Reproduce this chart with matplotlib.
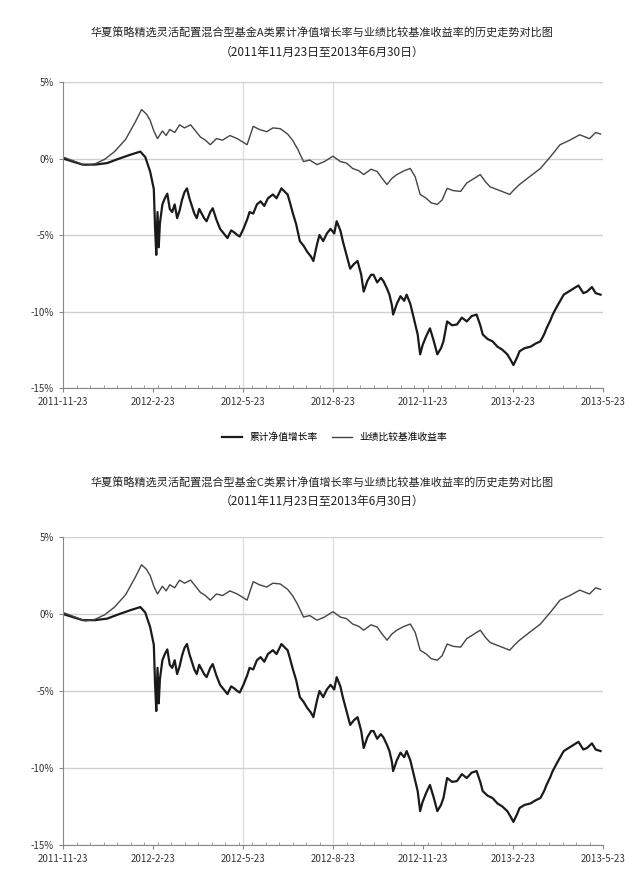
import numpy as np
import matplotlib
matplotlib.use("Agg")
import matplotlib.pyplot as plt

plt.rcParams['font.family'] = ['Noto Sans CJK SC', 'DejaVu Sans']
plt.rcParams['axes.unicode_minus'] = False

# 业绩比较基准收益率 (%)
bench_day = [0, 10, 18, 26, 34, 42, 51, 59, 64, 68,
             71, 74, 77, 81, 84, 87, 91, 95, 99, 104,
             108, 112, 116, 120, 125, 130, 136, 142, 146, 150,
             155, 160, 166, 171, 177, 183, 187, 191, 196, 201,
             207, 213, 220, 226, 231, 236, 241, 245, 251, 256,
             260, 264, 268, 272, 278, 283, 287, 291, 296, 300,
             305, 309, 313, 318, 324, 329, 335, 340, 344, 348,
             356, 364, 368, 372, 380, 389, 397, 405, 413, 421,
             429, 434, 438]
bench_val = [0.1, -0.2, -0.45, -0.35, -0.05, 0.45, 1.25, 2.4, 3.2, 2.9,
             2.5, 1.8, 1.3, 1.8, 1.5, 1.9, 1.7, 2.2, 2.0, 2.2,
             1.8, 1.4, 1.2, 0.9, 1.3, 1.2, 1.5, 1.3, 1.1, 0.9,
             2.1, 1.9, 1.75, 2.0, 1.95, 1.6, 1.2, 0.65, -0.2, -0.1,
             -0.4, -0.2, 0.15, -0.2, -0.3, -0.65, -0.8, -1.05, -0.7, -0.85,
             -1.3, -1.7, -1.3, -1.05, -0.8, -0.65, -1.2, -2.35, -2.6, -2.9,
             -3.0, -2.7, -1.95, -2.1, -2.15, -1.6, -1.3, -1.05, -1.5, -1.85,
             -2.1, -2.35, -2.0, -1.7, -1.2, -0.65, 0.1, 0.9, 1.2, 1.55,
             1.3, 1.7, 1.6]

# 累计净值增长率 (%)
fund_day = [0, 8, 16, 26, 36, 46, 55, 63, 67, 71,
            74, 75, 76, 77, 78, 79, 81, 83, 85, 87,
            89, 91, 93, 95, 97, 99, 101, 103, 105, 107,
            109, 111, 113, 115, 117, 120, 122, 125, 128, 131,
            134, 137, 139, 142, 144, 147, 150, 152, 155, 158,
            161, 164, 167, 171, 174, 178, 181, 183, 185, 187,
            190, 193, 196, 199, 202, 204, 207, 209, 212, 215,
            218, 221, 223, 226, 228, 231, 234, 237, 240, 243,
            245, 248, 251, 253, 256, 259, 261, 264, 266, 268,
            269, 272, 275, 278, 280, 283, 286, 289, 291, 293,
            296, 299, 302, 305, 308, 310, 313, 317, 321, 325,
            329, 333, 337, 340, 342, 346, 350, 354, 358, 362,
            365, 367, 370, 372, 376, 381, 385, 389, 392, 394,
            397, 399, 403, 408, 412, 416, 420, 424, 427, 431,
            434, 438]
fund_val = [0.0, -0.2, -0.4, -0.4, -0.3, 0.0, 0.25, 0.45, 0.1, -0.85,
            -2.0, -4.5, -6.3, -3.5, -5.8, -4.2, -3.0, -2.6, -2.3, -3.3,
            -3.5, -3.0, -3.9, -3.4, -2.7, -2.2, -1.95, -2.6, -3.1, -3.6,
            -3.9, -3.3, -3.6, -3.9, -4.1, -3.5, -3.25, -4.0, -4.6, -4.9,
            -5.2, -4.7, -4.8, -5.0, -5.1, -4.6, -4.0, -3.5, -3.6, -3.0,
            -2.8, -3.1, -2.6, -2.35, -2.6, -1.95, -2.2, -2.35, -2.9, -3.5,
            -4.3, -5.4, -5.7, -6.1, -6.4, -6.7, -5.6, -5.0, -5.4, -4.9,
            -4.6, -4.9, -4.1, -4.7, -5.4, -6.3, -7.2, -6.9, -6.7, -7.6,
            -8.7, -8.0, -7.6, -7.6, -8.1, -7.8, -8.0, -8.5, -8.9, -9.6,
            -10.2, -9.5, -9.0, -9.3, -8.9, -9.5, -10.5, -11.5, -12.8, -12.2,
            -11.6, -11.1, -11.9, -12.8, -12.4, -11.95, -10.65, -10.9, -10.85, -10.4,
            -10.65, -10.3, -10.2, -10.9, -11.5, -11.8, -11.95, -12.3, -12.5, -12.8,
            -13.2, -13.5, -13.0, -12.6, -12.4, -12.3, -12.1, -11.95, -11.5, -11.1,
            -10.6, -10.2, -9.6, -8.9, -8.7, -8.5, -8.3, -8.8, -8.7, -8.4,
            -8.8, -8.9]

tick_pos = [0, 73, 147, 220, 293, 367, 440]
tick_labels = ['2011-11-23', '2012-2-23', '2012-5-23', '2012-8-23',
               '2012-11-23', '2013-2-23', '2013-5-23']
y_ticks = [5, 0, -5, -10, -15]
y_labels = ['5%', '0%', '-5%', '-10%', '-15%']

titles = [
    ('华夏策略精选灵活配置混合型基金A类累计净值增长率与业绩比较基准收益率的历史走势对比图',
     '（2011年11月23日至2013年6月30日）'),
    ('华夏策略精选灵活配置混合型基金C类累计净值增长率与业绩比较基准收益率的历史走势对比图',
     '（2011年11月23日至2013年6月30日）'),
]

fig = plt.figure(figsize=(6.44, 8.8), dpi=100)
ax1 = fig.add_axes([63/644, 1-388/880, 540/644, 306/880])
ax2 = fig.add_axes([63/644, 1-845/880, 540/644, 308/880])


def draw(ax):
    ax.plot(fund_day, fund_val, color='#1a1a1a', lw=1.6, label='累计净值增长率')
    ax.plot(bench_day, bench_val, color='#444444', lw=1.0, label='业绩比较基准收益率')
    ax.set_xlim(0, 440)
    ax.set_ylim(-15, 5)
    ax.set_yticks(y_ticks)
    ax.set_yticklabels(y_labels, fontsize=7, color='#333333')
    ax.set_xticks(tick_pos)
    ax.set_xticklabels(tick_labels, fontsize=7, color='#333333')
    ax.set_xticks(np.arange(0, 441, 11), minor=True)
    ax.tick_params(axis='x', which='minor', length=2, direction='in', color='#888888')
    ax.tick_params(axis='both', which='major', length=3, color='#888888')
    ax.grid(axis='y', color='#d0d0d0', lw=1.0)
    for p in tick_pos[2:4]:
        ax.axvline(p, color='#dddddd', lw=1.0, zorder=0)
    for s in ['top', 'right']:
        ax.spines[s].set_visible(False)
    for s in ['left', 'bottom']:
        ax.spines[s].set_color('#888888')


draw(ax1)
draw(ax2)

fig.text(0.5, 1-32/880, titles[0][0], ha='center', va='center', fontsize=8, color='#222222')
fig.text(0.5, 1-52/880, titles[0][1], ha='center', va='center', fontsize=8.5, color='#222222')
fig.text(0.5, 1-482/880, titles[1][0], ha='center', va='center', fontsize=8, color='#222222')
fig.text(0.5, 1-501/880, titles[1][1], ha='center', va='center', fontsize=8.5, color='#222222')

fig.legend(*ax1.get_legend_handles_labels(), loc='center', bbox_to_anchor=(0.52, 1-437/880),
           ncol=2, frameon=False, fontsize=7, handlelength=2, columnspacing=1.5)

fig.savefig('out.png', dpi=100)
